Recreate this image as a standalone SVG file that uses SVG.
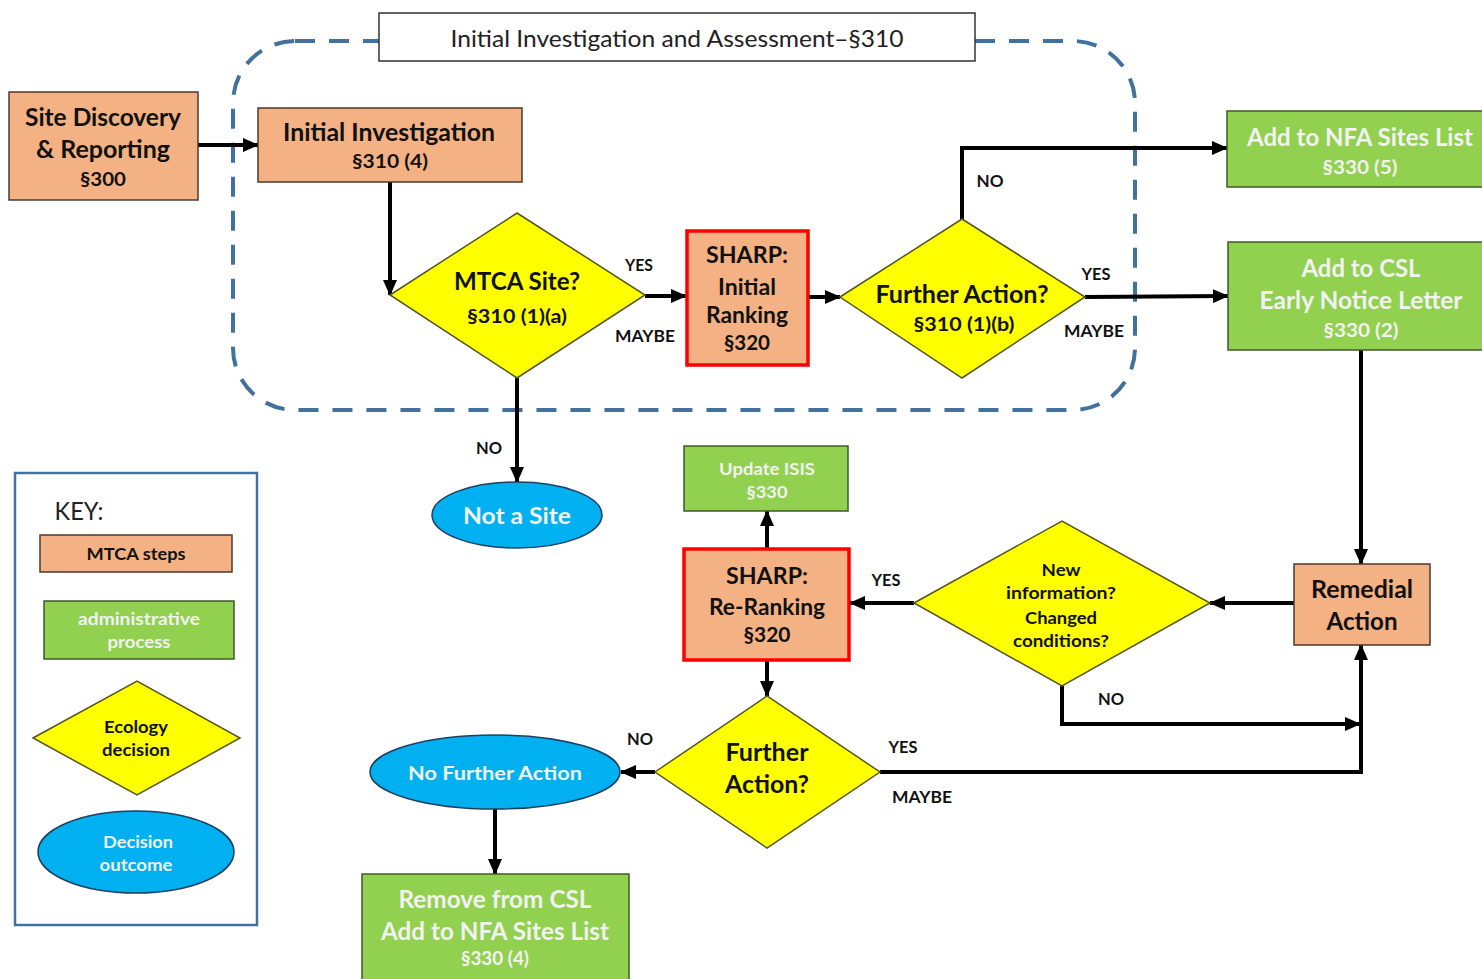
<svg xmlns="http://www.w3.org/2000/svg" width="1482" height="979" viewBox="0 0 1482 979">
<defs>
<marker id="ah" markerUnits="userSpaceOnUse" markerWidth="16" markerHeight="14" refX="15" refY="7" orient="auto">
<path d="M0,0 L16,7 L0,14 z" fill="#000"/>
</marker>
<style>
text{font-family:Lato,"Open Sans","Liberation Sans",sans-serif;font-weight:bold;text-anchor:middle;dominant-baseline:central;}
.mt{fill:#F4B183;stroke:#4a3a30;stroke-width:1.5;}
.sh{fill:#F4B183;stroke:#FF0000;stroke-width:3.5;}
.ad{fill:#92D050;stroke:#3f5a2a;stroke-width:1.5;}
.dc{fill:#FFFF00;stroke:#555522;stroke-width:1.5;}
.oc{fill:#00B0F0;stroke:#1f3f5f;stroke-width:1.5;}
.w{fill:#F2F2F2;}
.k{fill:#111;}
.lb{font-size:17px;fill:#111;}
.cn{fill:none;stroke:#000;stroke-width:4;}
.ca{fill:none;stroke:#000;stroke-width:4;marker-end:url(#ah);}
</style>
</defs>
<rect width="1482" height="979" fill="#fff"/>

<g id="boundary">
<rect x="233" y="41" width="902" height="369" rx="62" ry="62" fill="none" stroke="#41719C" stroke-width="4" stroke-dasharray="20 14"/>
</g>
<g id="title">
<rect x="379" y="13" width="596" height="48" fill="#fff" stroke="#333" stroke-width="1.5"/>
<text x="677" y="37" style="font-weight:normal;font-size:24px" fill="#222" textLength="453" lengthAdjust="spacingAndGlyphs">Initial Investigation and Assessment–§310</text>
</g>

<g id="connectors">
<line class="ca" x1="198" y1="145" x2="258" y2="145"/>
<polyline class="ca" points="390,182 390,295"/>
<line class="ca" x1="645" y1="296" x2="686" y2="296"/>
<line class="ca" x1="808" y1="297" x2="840" y2="297"/>
<polyline class="ca" points="962,219 962,148 1227,148"/>
<line class="ca" x1="1085" y1="297" x2="1228" y2="296"/>
<line class="ca" x1="517" y1="378" x2="517" y2="482"/>
<line class="ca" x1="1361" y1="350" x2="1361" y2="564"/>
<line class="ca" x1="1294" y1="603" x2="1210" y2="603"/>
<polyline class="ca" points="1062,686 1062,724 1360,724"/>
<line class="ca" x1="914" y1="603" x2="850" y2="603"/>
<line class="ca" x1="767" y1="549" x2="767" y2="511"/>
<line class="ca" x1="767" y1="660" x2="767" y2="696"/>
<line class="ca" x1="655" y1="772" x2="621" y2="772"/>
<polyline class="ca" points="880,772 1361,772 1361,645"/>
<line class="ca" x1="495" y1="809" x2="495" y2="874"/>
</g>

<g id="edge-labels">
<text class="lb" x="639" y="264" textLength="28" lengthAdjust="spacingAndGlyphs">YES</text>
<text class="lb" x="645" y="335" textLength="60" lengthAdjust="spacingAndGlyphs">MAYBE</text>
<text class="lb" x="990" y="180" textLength="27" lengthAdjust="spacingAndGlyphs">NO</text>
<text class="lb" x="1096" y="273" textLength="29" lengthAdjust="spacingAndGlyphs">YES</text>
<text class="lb" x="1094" y="330" textLength="60" lengthAdjust="spacingAndGlyphs">MAYBE</text>
<text class="lb" x="489" y="447" textLength="26" lengthAdjust="spacingAndGlyphs">NO</text>
<text class="lb" x="886" y="579" textLength="29" lengthAdjust="spacingAndGlyphs">YES</text>
<text class="lb" x="1111" y="698" textLength="26" lengthAdjust="spacingAndGlyphs">NO</text>
<text class="lb" x="640" y="738" textLength="26" lengthAdjust="spacingAndGlyphs">NO</text>
<text class="lb" x="903" y="746" textLength="29" lengthAdjust="spacingAndGlyphs">YES</text>
<text class="lb" x="922" y="796" textLength="60" lengthAdjust="spacingAndGlyphs">MAYBE</text>
</g>

<g id="site-discovery">
<rect class="mt" x="9" y="92" width="189" height="108"/>
<text class="k" x="103" y="116" font-size="24" textLength="156" lengthAdjust="spacingAndGlyphs">Site Discovery</text>
<text class="k" x="103" y="148" font-size="24" textLength="134" lengthAdjust="spacingAndGlyphs">&amp; Reporting</text>
<text class="k" x="103" y="178" font-size="19" textLength="46" lengthAdjust="spacingAndGlyphs">§300</text>
</g>

<g id="initial-investigation">
<rect class="mt" x="258" y="108" width="264" height="74"/>
<text class="k" x="389" y="131" font-size="24" textLength="212" lengthAdjust="spacingAndGlyphs">Initial Investigation</text>
<text class="k" x="390" y="160" font-size="19" textLength="76" lengthAdjust="spacingAndGlyphs">§310 (4)</text>
</g>

<g id="mtca-site">
<polygon class="dc" points="390,295 517,213 645,295 517,378"/>
<text class="k" x="517" y="280" font-size="24" textLength="126" lengthAdjust="spacingAndGlyphs">MTCA Site?</text>
<text class="k" x="517" y="315" font-size="19" textLength="100" lengthAdjust="spacingAndGlyphs">§310 (1)(a)</text>
</g>

<g id="sharp-initial">
<rect class="sh" x="687" y="231" width="121" height="134"/>
<text class="k" x="747" y="254" font-size="22" textLength="82" lengthAdjust="spacingAndGlyphs">SHARP:</text>
<text class="k" x="747" y="286" font-size="22" textLength="58" lengthAdjust="spacingAndGlyphs">Initial</text>
<text class="k" x="747" y="314" font-size="22" textLength="82" lengthAdjust="spacingAndGlyphs">Ranking</text>
<text class="k" x="747" y="342" font-size="20" textLength="46" lengthAdjust="spacingAndGlyphs">§320</text>
</g>

<g id="further-action-1">
<polygon class="dc" points="840,297 962,219 1085,297 962,378"/>
<text class="k" x="962" y="293" font-size="24" textLength="173" lengthAdjust="spacingAndGlyphs">Further Action?</text>
<text class="k" x="964" y="323" font-size="19" textLength="101" lengthAdjust="spacingAndGlyphs">§310 (1)(b)</text>
</g>

<g id="add-nfa">
<rect class="ad" x="1227" y="111" width="260" height="76"/>
<text class="w" x="1360" y="136" font-size="24" textLength="226" lengthAdjust="spacingAndGlyphs">Add to NFA Sites List</text>
<text class="w" x="1360" y="166" font-size="19" textLength="75" lengthAdjust="spacingAndGlyphs">§330 (5)</text>
</g>

<g id="add-csl">
<rect class="ad" x="1228" y="242" width="259" height="108"/>
<text class="w" x="1361" y="267" font-size="24" textLength="119" lengthAdjust="spacingAndGlyphs">Add to CSL</text>
<text class="w" x="1361" y="299" font-size="24" textLength="203" lengthAdjust="spacingAndGlyphs">Early Notice Letter</text>
<text class="w" x="1361" y="329" font-size="19" textLength="75" lengthAdjust="spacingAndGlyphs">§330 (2)</text>
</g>

<g id="not-a-site">
<ellipse class="oc" cx="517" cy="515" rx="85" ry="33"/>
<text class="w" x="517" y="515" font-size="22" textLength="108" lengthAdjust="spacingAndGlyphs">Not a Site</text>
</g>

<g id="remedial-action">
<rect class="mt" x="1294" y="564" width="136" height="81"/>
<text class="k" x="1362" y="588" font-size="24" textLength="102" lengthAdjust="spacingAndGlyphs">Remedial</text>
<text class="k" x="1362" y="620" font-size="24" textLength="71" lengthAdjust="spacingAndGlyphs">Action</text>
</g>

<g id="new-info">
<polygon class="dc" points="914,603 1062,521 1210,603 1062,686"/>
<text class="k" x="1061" y="569" font-size="17" textLength="39" lengthAdjust="spacingAndGlyphs">New</text>
<text class="k" x="1061" y="592" font-size="17" textLength="110" lengthAdjust="spacingAndGlyphs">information?</text>
<text class="k" x="1061" y="617" font-size="17" textLength="72" lengthAdjust="spacingAndGlyphs">Changed</text>
<text class="k" x="1061" y="640" font-size="17" textLength="96" lengthAdjust="spacingAndGlyphs">conditions?</text>
</g>

<g id="sharp-reranking">
<rect class="sh" x="684" y="549" width="165" height="111"/>
<text class="k" x="767" y="575" font-size="22" textLength="82" lengthAdjust="spacingAndGlyphs">SHARP:</text>
<text class="k" x="767" y="606" font-size="22" textLength="116" lengthAdjust="spacingAndGlyphs">Re-Ranking</text>
<text class="k" x="767" y="634" font-size="20" textLength="47" lengthAdjust="spacingAndGlyphs">§320</text>
</g>

<g id="update-isis">
<rect class="ad" x="684" y="446" width="164" height="65"/>
<text class="w" x="767" y="468" font-size="17" textLength="96" lengthAdjust="spacingAndGlyphs">Update ISIS</text>
<text class="w" x="767" y="491" font-size="17" textLength="41" lengthAdjust="spacingAndGlyphs">§330</text>
</g>

<g id="further-action-2">
<polygon class="dc" points="655,772 767,696 880,772 767,848"/>
<text class="k" x="767" y="751" font-size="24" textLength="83" lengthAdjust="spacingAndGlyphs">Further</text>
<text class="k" x="767" y="783" font-size="24" textLength="84" lengthAdjust="spacingAndGlyphs">Action?</text>
</g>

<g id="no-further-action">
<ellipse class="oc" cx="495" cy="772" rx="125" ry="37"/>
<text class="w" x="495" y="772" font-size="19" textLength="174" lengthAdjust="spacingAndGlyphs">No Further Action</text>
</g>

<g id="remove-csl">
<rect class="ad" x="362" y="874" width="267" height="110"/>
<text class="w" x="495" y="898" font-size="24" textLength="193" lengthAdjust="spacingAndGlyphs">Remove from CSL</text>
<text class="w" x="495" y="930" font-size="24" textLength="228" lengthAdjust="spacingAndGlyphs">Add to NFA Sites List</text>
<text class="w" x="495" y="958" font-size="18" textLength="68" lengthAdjust="spacingAndGlyphs">§330 (4)</text>
</g>

<g id="key">
<rect x="15" y="473" width="242" height="452" fill="#fff" stroke="#41719C" stroke-width="2.5"/>
<text x="79" y="510" style="font-weight:normal;font-size:25px" fill="#222" textLength="49" lengthAdjust="spacingAndGlyphs">KEY:</text>
<rect class="mt" x="40" y="535" width="192" height="37"/>
<text class="k" x="136" y="553" font-size="17" textLength="99" lengthAdjust="spacingAndGlyphs">MTCA steps</text>
<rect class="ad" x="44" y="601" width="190" height="58"/>
<text class="w" x="139" y="618" font-size="17" textLength="122" lengthAdjust="spacingAndGlyphs">administrative</text>
<text class="w" x="139" y="641" font-size="17" textLength="63" lengthAdjust="spacingAndGlyphs">process</text>
<polygon class="dc" points="33,738 137,681 240,738 137,795"/>
<text class="k" x="136" y="726" font-size="17" textLength="64" lengthAdjust="spacingAndGlyphs">Ecology</text>
<text class="k" x="136" y="749" font-size="17" textLength="68" lengthAdjust="spacingAndGlyphs">decision</text>
<ellipse class="oc" cx="136" cy="852" rx="98" ry="41"/>
<text class="w" x="138" y="841" font-size="17" textLength="70" lengthAdjust="spacingAndGlyphs">Decision</text>
<text class="w" x="136" y="864" font-size="17" textLength="73" lengthAdjust="spacingAndGlyphs">outcome</text>
</g>
</svg>
